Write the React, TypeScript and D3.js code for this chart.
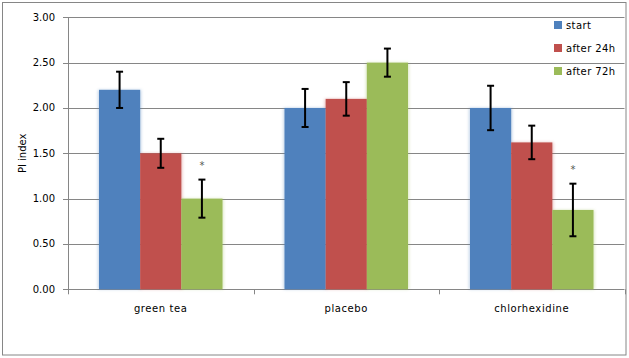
import React from "react";
import * as d3 from "d3";

const categories = ["green tea", "placebo", "chlorhexidine"];
const seriesNames = ["start", "after 24h", "after 72h"];
const seriesColors = ["#4F81BD", "#C0504D", "#9BBB59"];
const startValues = [2.2, 2.0, 2.0];
const after24Values = [1.5, 2.1, 1.62];
const after72Values = [1.0, 2.5, 0.875];
const startErr = [0.2, 0.21, 0.245];
const after24Err = [0.16, 0.185, 0.185];
const after72Err = [0.21, 0.155, 0.29];
const after72Sig = [true, false, true];
const yTicks = [0, 0.5, 1, 1.5, 2, 2.5, 3];

const W = 629;
const H = 358;
const left = 68;
const right = 624.5;
const top = 17.3;
const bottom = 289.3;

export default function App() {
  const x0 = d3.scaleBand<string>().domain(categories).range([left, right]).paddingInner(0).paddingOuter(0);
  const groupPad = 31;
  const x1 = d3
    .scaleBand<string>()
    .domain(seriesNames)
    .range([groupPad, x0.bandwidth() - groupPad])
    .padding(0);
  const y = d3.scaleLinear().domain([0, 3]).range([bottom, top]);

  const series = [
    { name: seriesNames[0], values: startValues, err: startErr, color: seriesColors[0], sig: [false, false, false] },
    { name: seriesNames[1], values: after24Values, err: after24Err, color: seriesColors[1], sig: [false, false, false] },
    { name: seriesNames[2], values: after72Values, err: after72Err, color: seriesColors[2], sig: after72Sig },
  ];

  const font = "'DejaVu Sans', Verdana, sans-serif";
  const grid = "#868686";

  return (
    <svg
      width={W}
      height={H}
      style={{ position: "absolute", left: 0, top: 0, background: "#fff" }}
      fontFamily={font}
    >
      <defs>
        <filter id="glow" x="-20%" y="-5%" width="140%" height="110%">
          <feGaussianBlur stdDeviation="1.6" />
        </filter>
      </defs>
      <rect x={2.5} y={2.5} width={623.5} height={352.5} fill="#fff" stroke={grid} strokeWidth={1} />

      {/* gridlines */}
      {yTicks.map((t) => (
        <line key={"g" + t} x1={left} x2={right} y1={Math.round(y(t)) + 0.5} y2={Math.round(y(t)) + 0.5} stroke={grid} strokeWidth={1} />
      ))}
      {/* y ticks and labels */}
      {yTicks.map((t) => (
        <g key={"t" + t}>
          <line x1={63} x2={left} y1={Math.round(y(t)) + 0.5} y2={Math.round(y(t)) + 0.5} stroke={grid} />
          <text x={55} y={y(t)} dy="0.35em" textAnchor="end" fontSize={10} fill="#000">
            {d3.format(".2f")(t)}
          </text>
        </g>
      ))}
      <line x1={left + 0.5} x2={left + 0.5} y1={top} y2={bottom + 5} stroke={grid} />
      {/* x ticks */}
      {categories.map((c) => (
        <line key={"xt" + c} x1={Math.round(x0(c)! + x0.bandwidth()) + 0.5} x2={Math.round(x0(c)! + x0.bandwidth()) + 0.5} y1={bottom} y2={bottom + 5} stroke={grid} />
      ))}

      {/* bar glows */}
      {series.map((s) =>
        categories.map((c, i) => {
          const bx = x0(c)! + x1(s.name)!;
          const bw = x1.bandwidth();
          const by = y(s.values[i]);
          return (
            <rect key={"gl" + s.name + c} x={bx - 1} y={by} width={bw + 2} height={bottom - by} fill={s.color} opacity={0.35} filter="url(#glow)" />
          );
        })
      )}
      {/* bars */}
      {series.map((s) =>
        categories.map((c, i) => {
          const bx = x0(c)! + x1(s.name)!;
          const bw = x1.bandwidth();
          const by = y(s.values[i]);
          return <rect key={s.name + c} x={bx} y={by} width={bw} height={bottom - by} fill={s.color} />;
        })
      )}

      {/* error bars */}
      {series.map((s) =>
        categories.map((c, i) => {
          const cx = x0(c)! + x1(s.name)! + x1.bandwidth() / 2;
          const hi = y(s.values[i] + s.err[i]);
          const lo = y(s.values[i] - s.err[i]);
          return (
            <g key={"e" + s.name + c} stroke="#000" strokeWidth={2}>
              <line x1={cx} x2={cx} y1={hi} y2={lo} />
              <line x1={cx - 3.5} x2={cx + 3.5} y1={hi} y2={hi} />
              <line x1={cx - 3.5} x2={cx + 3.5} y1={lo} y2={lo} />
              {s.sig[i] && (
                <text x={cx} y={hi - 17} dy="0.6em" textAnchor="middle" fontSize={10} fill="#555" stroke="none">
                  *
                </text>
              )}
            </g>
          );
        })
      )}

      {/* x labels */}
      {categories.map((c) => (
        <text key={"xl" + c} x={x0(c)! + x0.bandwidth() / 2} y={308} dy="0.35em" textAnchor="middle" fontSize={10} letterSpacing={0.6} fill="#000">
          {c}
        </text>
      ))}

      {/* y title */}
      <text transform={`translate(22,${(top + bottom) / 2}) rotate(-90)`} textAnchor="middle" dy="0.35em" fontSize={10} fill="#000">
        PI index
      </text>

      {/* legend */}
      {seriesNames.map((n, i) => (
        <g key={"lg" + n} transform={`translate(554,${25 + i * 23})`}>
          <rect x={0} y={-4} width={8} height={8} fill={seriesColors[i]} />
          <text x={12} y={0} dy="0.35em" fontSize={10} letterSpacing={0.4} fill="#000">
            {n}
          </text>
        </g>
      ))}
    </svg>
  );
}
